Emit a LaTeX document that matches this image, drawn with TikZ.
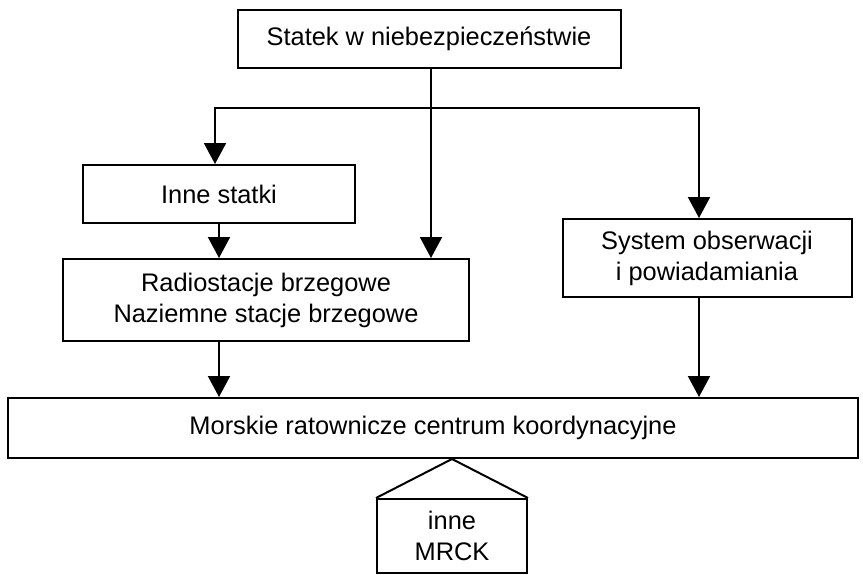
\documentclass[tikz,border=0pt]{standalone}
\usepackage{fontspec}
\setmainfont{Liberation Sans}
\usetikzlibrary{arrows.meta}
\begin{document}
\begin{tikzpicture}[x=1pt,y=-1pt,
  box/.style={draw, line width=2pt, inner sep=0pt, align=center,
    font=\fontsize{25.4}{31}\selectfont},
  flow/.style={line width=2pt, -{Triangle[length=21pt,width=22pt]}},
  link/.style={line width=2pt}]
  \useasboundingbox (0,0) rectangle (863,574);

  % boxes
  \node[box, minimum width=383pt, minimum height=58pt] (top) at (429,39) {Statek w niebezpieczeństwie};
  \node[box, minimum width=272pt, minimum height=58pt] (inne) at (219,194) {Inne statki};
  \node[box, minimum width=406pt, minimum height=82pt] (radio) at (266,300) {Radiostacje brzegowe\\Naziemne stacje brzegowe};
  \node[box, minimum width=289pt, minimum height=78pt] (system) at (707,258) {System obserwacji\\i powiadamiania};
  \node[box, minimum width=850pt, minimum height=60pt] (mrck) at (433,428) {Morskie ratownicze centrum koordynacyjne};
  \node[box, minimum width=150pt, minimum height=74pt] (other) at (452,536) {inne\\MRCK};

  % roof over the lower box
  \coordinate (apex) at (452,459);
  \draw[link, line join=miter] (other.north west) -- (apex) -- (other.north east);

  % distribution line below the top box
  \coordinate (j) at (431,108);
  \coordinate (jL) at (215,108);
  \coordinate (jR) at (699,108);
  \draw[link] (top.south -| j) -- (j);
  \draw[flow] (j) -- (jL) -- (jL |- inne.north);
  \draw[flow] (j) -- (jR) -- (jR |- system.north);
  \draw[flow] (j) -- (j |- radio.north);

  % remaining connectors
  \draw[flow] (inne.south) -- (inne.south |- radio.north);
  \draw[flow] (inne.south |- radio.south) -- (inne.south |- mrck.north);
  \draw[flow] (jR |- system.south) -- (jR |- mrck.north);
\end{tikzpicture}
\end{document}
